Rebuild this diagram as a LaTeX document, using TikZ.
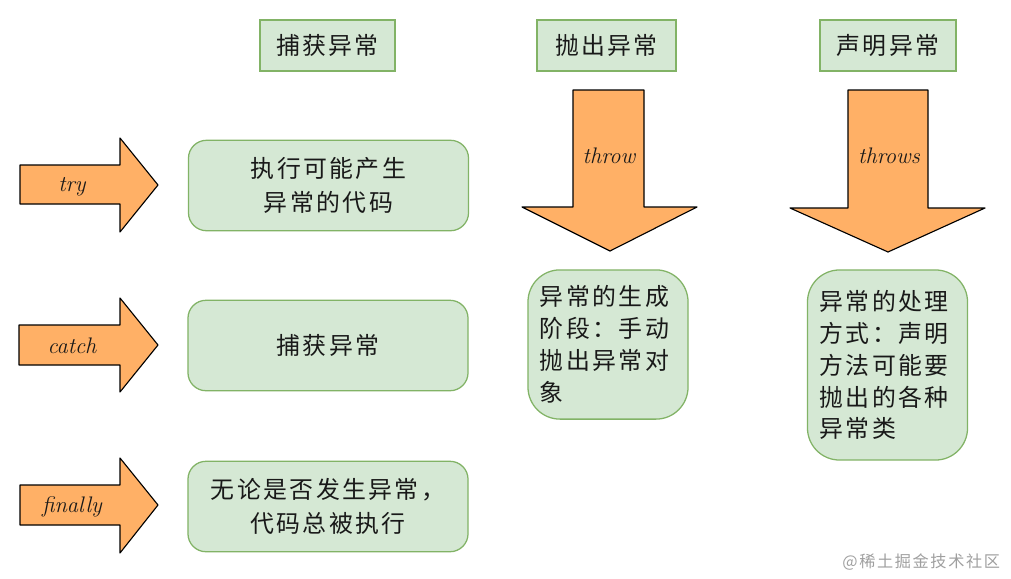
\documentclass[tikz,border=0pt]{standalone}
\usepackage{fontspec}
\newfontfamily\cjk[LetterSpace=10]{Noto Sans CJK SC}
\usetikzlibrary{positioning}
\definecolor{boxfill}{HTML}{D5E8D4}
\definecolor{boxline}{HTML}{82B366}
\definecolor{arrowfill}{HTML}{FFB066}

\begin{document}
\begin{tikzpicture}[x=0.025cm, y=-0.025cm,
  every node/.style={font=\cjk\fontsize{17}{24}\selectfont, text=black!90},
  head/.style={draw=boxline, fill=boxfill, line width=0.9pt, minimum height=1.28cm},
  card/.style={draw=boxline, fill=boxfill, line width=0.9pt, rounded corners=0.45cm,
    minimum width=7cm, minimum height=2.26cm, align=center},
  note/.style={draw=boxline, fill=boxfill, line width=0.9pt, rounded corners=0.8cm,
    minimum width=4cm, text width=3.4cm, align=left, font=\cjk\fontsize{17}{22.7}\selectfont},
  fat/.style={draw=black, fill=arrowfill, line width=0.8pt, line join=round},
  word/.style={font=\itshape\fontsize{16}{16}\selectfont}]
\useasboundingbox (0,0) rectangle (1011,578);

% column titles
\node[head, minimum width=3.38cm] (catchhead) at (327.5,45.5) {捕获异常};
\node[head, minimum width=3.48cm] (throwhead) at (606.5,45.5) {抛出异常};
\node[head, minimum width=3.4cm] (throwshead) at (888,45.5) {声明异常};

% try / catch / finally
\draw[fat] (20,165) -- (120,165) -- (120,138) -- (158,185) -- (120,232) -- (120,204) -- (20,204) -- cycle;
\node[word] (try) at (72,187) {try};
\node[card] (trybox) at (328.5,185.5) {执行可能产生\\异常的代码};

\draw[fat] (19,325) -- (120,325) -- (120,298) -- (158,345) -- (120,392) -- (120,365) -- (19,365) -- cycle;
\node[word] (catch) at (72,346) {catch};
\node[card] (catchbox) at (328,345.5) {捕获异常};

\draw[fat] (20,485) -- (120,485) -- (120,458) -- (158,505) -- (120,553) -- (120,525) -- (20,525) -- cycle;
\node[word] (finally) at (72,507) {finally};
\node[card] (finallybox) at (328,506.5) {无论是否发生异常，\\代码总被执行};

% throw / throws
\draw[fat] (573,90) -- (644,90) -- (644,207) -- (697,207) -- (610,251) -- (522,207) -- (573,207) -- cycle;
\node[word] (throw) at (609,156) {throw};
\node[note, minimum height=3.73cm] (throwbox) at (608,344.5)
  {异常的生成\\阶段：手动\\抛出异常对\\象};

\draw[fat] (848,90) -- (928,90) -- (928,208) -- (985,208) -- (888,252) -- (790,208) -- (848,208) -- cycle;
\node[word] (throws) at (889,156) {throws};
\node[note, minimum height=4.75cm] (throwsbox) at (887.5,365)
  {异常的处理\\方式：声明\\方法可能要\\抛出的各种\\异常类};

\node[anchor=east, text=gray!75, font=\cjk\fontsize{11.5}{11.5}\selectfont] (mark) at (1005,562) {@稀土掘金技术社区};
\end{tikzpicture}
\end{document}
